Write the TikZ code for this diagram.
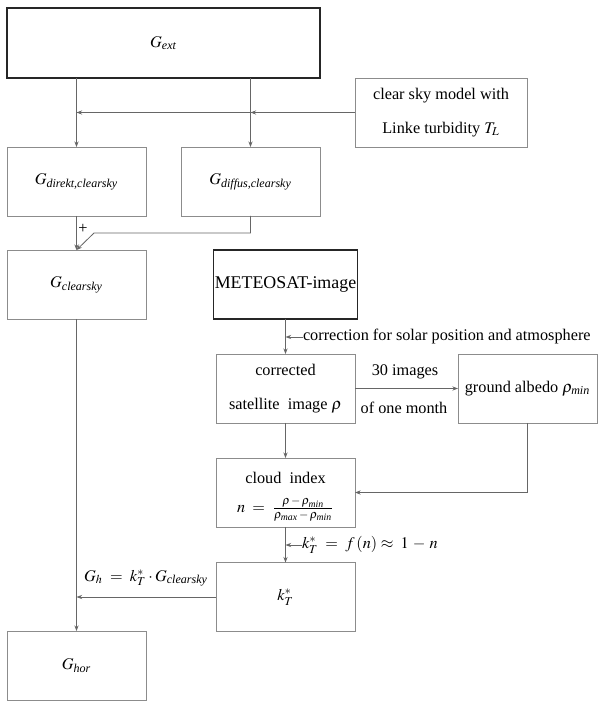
\documentclass[tikz,border=0pt]{standalone}
\usepackage{amsmath}
\usepackage{mathptmx}
\usepackage{fontspec}
\setmainfont{Liberation Serif}
\usetikzlibrary{arrows.meta}

\newcommand{\sub}[1]{\textit{#1}}

\tikzset{
    box/.style={draw=black!45, line width=0.5pt, minimum width=85.5pt, minimum height=42.4pt,
        inner sep=1pt, outer sep=0pt, align=center},
    boldbox/.style={box, draw=black!85, line width=0.7pt},
    lbl/.style={inner sep=0pt, outer sep=0pt},
    conn/.style={draw=black!60, line width=0.5pt},
}

\begin{document}
\begin{tikzpicture}[x=0.615pt, y=-0.615pt, >={Stealth[length=3.5pt,width=2.6pt]}]
    \useasboundingbox (0,0) rectangle (602,706);
    % boxes
    \node[boldbox, minimum width=192.5pt, minimum height=43pt] (ext) at (163.5,43) {$G_{\sub{ext}}$};
    \node[box, minimum width=105.8pt] (cs) at (441,112.5) {clear sky model with\\[9pt] Linke turbidity $T_L$};
    \node[box] (direkt) at (76.5,181.5) {$G_{\sub{direkt,clearsky}}$};
    \node[box] (diffus) at (250.5,181.5) {$G_{\sub{diffus,clearsky}}$};
    \node[box] (clear) at (76.5,284.5) {$G_{\sub{clearsky}}$};
    \node[boldbox] (meteo) at (285.5,284.5) {\fontsize{11}{13}\selectfont METEOSAT-image};
    \node[box] (corr) at (285.5,388.5) {corrected\\[9pt] satellite\ \ image $\rho$};
    \node[box] (albedo) at (527.5,388.5) {ground albedo\ $\rho_{\sub{min}}$};
    \node[box] (cloud) at (285.5,492.5) {\rule{0pt}{12pt}cloud\ \ index\\[6pt] $n \;=\; \frac{\rho\,-\,\rho_{\sub{min}}}{\rho_{\sub{max}}\,-\,\rho_{\sub{min}}}$};
    \node[box] (kt) at (285.5,597) {$k_T^*$};
    \node[box] (hor) at (76.5,665.5) {$G_{\sub{hor}}$};

    % extraterrestrial split
    \draw[conn, ->] (ext.south -| direkt.north) -- (direkt.north);
    \draw[conn, ->] (ext.south -| diffus.north) -- (diffus.north);
    \coordinate (csa) at (cs.west -| diffus.north);
    \coordinate (csb) at (cs.west -| direkt.north);
    \draw[conn, ->] (cs.west) -- (csa);
    \draw[conn, ->] (csa) -- (csb);

    % sum
    \coordinate (sa) at (250.5,233);
    \coordinate (sb) at (94,233);
    \draw[conn, ->] (direkt.south) -- (clear.north);
    \draw[conn, ->] (diffus.south) -- (sa) -- (sb) -- (clear.north);
    \node[lbl] (plus) at (83,229) {+};

    % satellite chain
    \draw[conn, ->] (meteo) -- (corr);
    \node[lbl, anchor=west] (corrlbl) at (303,337) {correction for solar position and atmosphere};
    \draw[conn, ->] (corrlbl.west) -- (corrlbl.west -| corr.north);
    \draw[conn, ->] (corr) -- (albedo);
    \node[lbl] (imgs) at (405,372) {30 images};
    \node[lbl] (month) at (404,408) {of one month};
    \draw[conn, ->] (albedo.south) |- (cloud.east);
    \draw[conn, ->] (corr) -- (cloud);
    \draw[conn, ->] (cloud) -- (kt);
    \node[lbl, anchor=west] (ktlbl) at (302,545) {$k_T^* \;=\; f\,(n) \approx\; 1 \,-\, n$};
    \draw[conn, ->] (ktlbl.west) -- (ktlbl.west -| kt.north);

    % result
    \draw[conn, ->] (kt.west) -- (kt.west -| clear.south);
    \node[lbl] (ghlbl) at (146,578) {$G_h \;=\; k_T^* \cdot G_{\sub{clearsky}}$};
    \draw[conn, ->] (clear) -- (hor);
\end{tikzpicture}
\end{document}
